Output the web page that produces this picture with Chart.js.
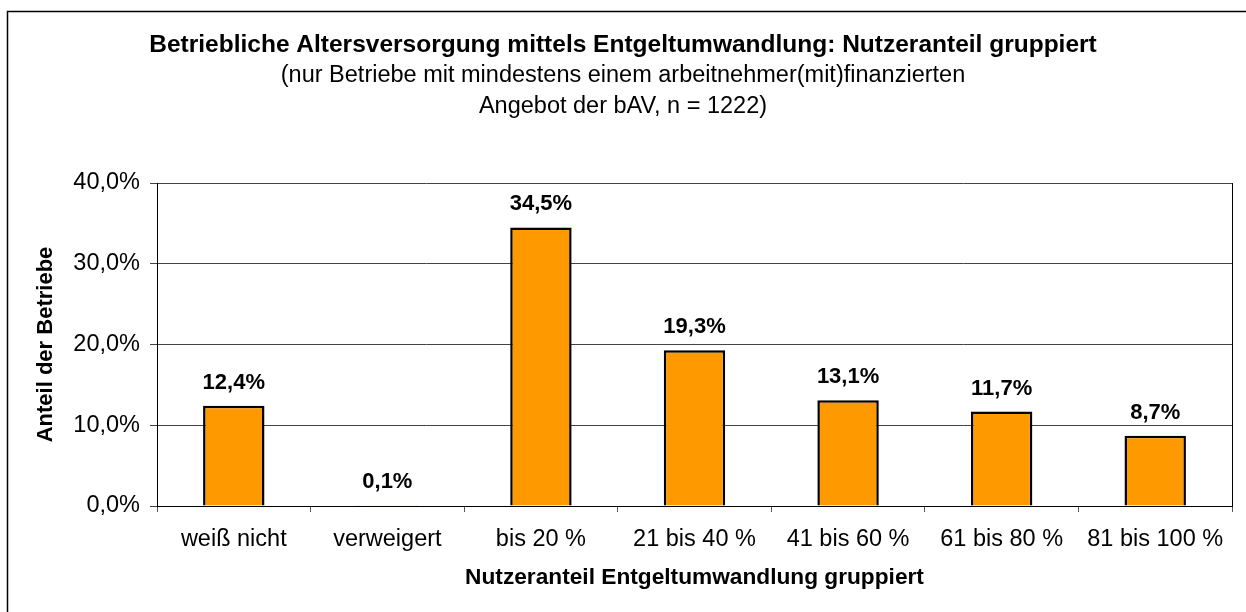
<!DOCTYPE html>
<html>
<head>
<meta charset="utf-8">
<script src="https://cdn.jsdelivr.net/npm/chart.js@4.4.1/dist/chart.umd.min.js"></script>
<style>
  html,body{margin:0;padding:0;background:#fff;}
  #chart{display:block;}
</style>
</head>
<body>
<canvas id="chart" width="1246" height="612"></canvas>
<script>
const categories=['weiß nicht','verweigert','bis 20 %','21 bis 40 %','41 bis 60 %','61 bis 80 %','81 bis 100 %'];
const values=[12.4, 0.1, 34.5, 19.3, 13.1, 11.7, 8.7];
const yTicks=[0, 10, 20, 30, 40];

const titleText='Betriebliche Altersversorgung mittels Entgeltumwandlung: Nutzeranteil gruppiert';
const subtitleLines=['(nur Betriebe mit mindestens einem arbeitnehmer(mit)finanzierten','Angebot der bAV, n = 1222)'];

const fontFam='"Liberation Sans", Arial, sans-serif';
const fmt=(v)=>v.toFixed(1).replace('.',',')+'%';

const decor={
  id:'decor',
  beforeDraw(chart){
    const c=chart.ctx;
    c.save();
    c.fillStyle='#fff';
    c.fillRect(0,0,chart.width,chart.height);
    // outer frame (runs off the bottom/right edge)
    c.strokeStyle='#000';
    c.lineWidth=1.5;
    c.strokeRect(7.5,11.5,1260,640);
    // titles
    c.fillStyle='#000';
    c.textAlign='center';
    c.textBaseline='middle';
    c.font='bold 24.5px '+fontFam;
    c.fillText(titleText,623,45);
    c.font='23.5px '+fontFam;
    subtitleLines.forEach((l,i)=>c.fillText(l,623,76+i*31));
    c.restore();
  },
  afterDraw(chart){
    const c=chart.ctx, a=chart.chartArea;
    c.save();
    c.strokeStyle='#000';
    c.lineWidth=1;
    c.beginPath();
    c.moveTo(Math.round(a.right)+0.5,a.top);
    c.lineTo(Math.round(a.right)+0.5,a.bottom);
    c.stroke();
    // value labels
    const meta=chart.getDatasetMeta(0);
    c.fillStyle='#000';
    c.font='bold 22px '+fontFam;
    c.textAlign='center';
    c.textBaseline='middle';
    meta.data.forEach((bar,i)=>{
      c.fillText(fmt(values[i]),bar.x,bar.y-23);
    });
    c.restore();
  }
};

new Chart(document.getElementById('chart'),{
  type:'bar',
  data:{
    labels:categories,
    datasets:[{
      data:values,
      backgroundColor:'#FF9900',
      borderColor:'#000',
      borderWidth:2.5,
      categoryPercentage:1,
      barPercentage:0.4
    }]
  },
  options:{
    responsive:false,
    animation:false,
    devicePixelRatio:1,
    layout:{padding:{top:183,right:14,bottom:0,left:0}},
    plugins:{legend:{display:false},tooltip:{enabled:false}},
    scales:{
      x:{
        grid:{offset:true,drawOnChartArea:false,tickLength:6,color:'#555'},
        border:{color:'#000',width:1},
        ticks:{color:'#000',font:{family:fontFam,size:23.5},padding:13,maxRotation:0},
        title:{display:true,text:'Nutzeranteil Entgeltumwandlung gruppiert',color:'#000',font:{family:fontFam,size:22.7,weight:'bold'},padding:{top:0,bottom:21}},
        afterFit(s){s.height=612-506;}
      },
      y:{
        min:0,max:40,
        afterBuildTicks(s){s.ticks=yTicks.map(v=>({value:v}));},
        grid:{color:'#444',lineWidth:1,tickLength:7},
        border:{color:'#000',width:1},
        ticks:{color:'#000',font:{family:fontFam,size:23.5},padding:10,callback:(v)=>fmt(v)},
        title:{display:true,text:'Anteil der Betriebe',color:'#000',font:{family:fontFam,size:22,weight:'bold'},padding:{top:33,bottom:0}},
        afterFit(s){s.width=157;}
      }
    }
  },
  plugins:[decor]
});
</script>
</body>
</html>
